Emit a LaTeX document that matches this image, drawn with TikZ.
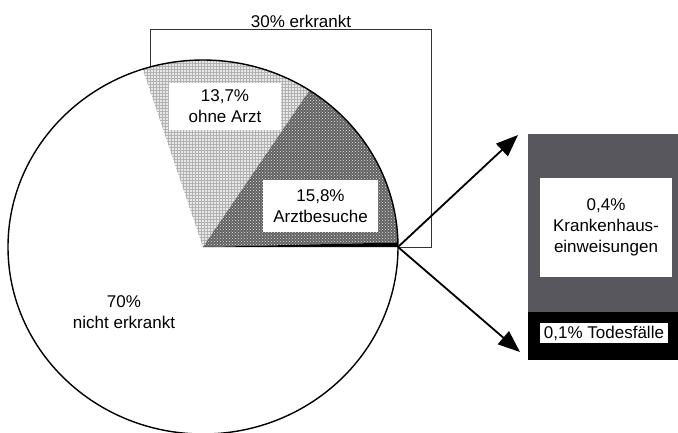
\documentclass[tikz,border=0pt]{standalone}
\usepackage{fontspec}
\setmainfont{Liberation Sans}
\usetikzlibrary{arrows.meta,patterns}
\definecolor{darkbox}{RGB}{88,87,94}
\begin{document}
\begin{tikzpicture}[x=1pt,y=-1pt,
  lab/.style={fill=white, inner sep=0pt, align=center, font=\fontsize{17}{21}\selectfont},
  txt/.style={inner sep=0pt, align=center, font=\fontsize{17}{21}\selectfont},
  arr/.style={line width=1.8pt, -{Triangle[length=22pt,width=17pt]}},
  pie/.style={x radius=195pt, y radius=187pt}]
\useasboundingbox (0,0) rectangle (678,432);
\coordinate (c) at (203,247);
\coordinate (e) at (398,247);
\coordinate (ta) at (518,135);
\coordinate (tb) at (520,352);
% 30% box
\node[draw=black!80, line width=1.1pt, minimum width=281pt, minimum height=218pt, inner sep=0pt, anchor=north west] (ill) at (150,29) {};
\node[txt, anchor=base] (erk) at (301,27) {30\% erkrankt};
% pie
\fill[white] (c) ellipse [pie];
\fill[gray!18] (c) -- ([shift={(56.9:195pt and 187pt)}]c) arc[start angle=56.9, end angle=108, pie] -- cycle;
\fill[pattern=grid, pattern color=gray!60] (c) -- ([shift={(56.9:195pt and 187pt)}]c) arc[start angle=56.9, end angle=108, pie] -- cycle;
\fill[black!62] (c) -- ([shift={(1.4:195pt and 187pt)}]c) arc[start angle=1.4, end angle=56.9, pie] -- cycle;
\fill[pattern=crosshatch dots, pattern color=white!80!gray] (c) -- ([shift={(1.4:195pt and 187pt)}]c) arc[start angle=1.4, end angle=56.9, pie] -- cycle;
\fill[black] (c) -- (e) arc[start angle=0, end angle=1.4, pie] -- cycle;
\draw[line width=1.4pt] (c) ellipse [pie];
% labels
\node[lab, minimum width=112pt, minimum height=47pt] (ohne) at (225,106.5) {13,7\%\\ohne Arzt};
\node[lab, minimum width=115pt, minimum height=52pt] (besuch) at (320.5,206) {15,8\%\\Arztbesuche};
\node[txt] (nicht) at (124,312) {70\%\\nicht erkrankt};
% right boxes
\node[fill=darkbox, minimum width=150pt, minimum height=178pt, inner sep=0pt, anchor=north west] (hosp) at (528,134) {};
\node[fill=black, minimum width=150pt, minimum height=48pt, inner sep=0pt, anchor=north west] (tod) at (528,312) {};
\node[lab, minimum width=132pt, minimum height=99pt] (kh) at (606,227.5) {0,4\%\\Krankenhaus-\\einweisungen};
\node[lab, minimum width=128pt, minimum height=20pt] (todl) at (604,333) {0,1\% Todesfälle};
% arrows
\draw[arr] (e) -- (ta);
\draw[arr] (e) -- (tb);
\end{tikzpicture}
\end{document}
